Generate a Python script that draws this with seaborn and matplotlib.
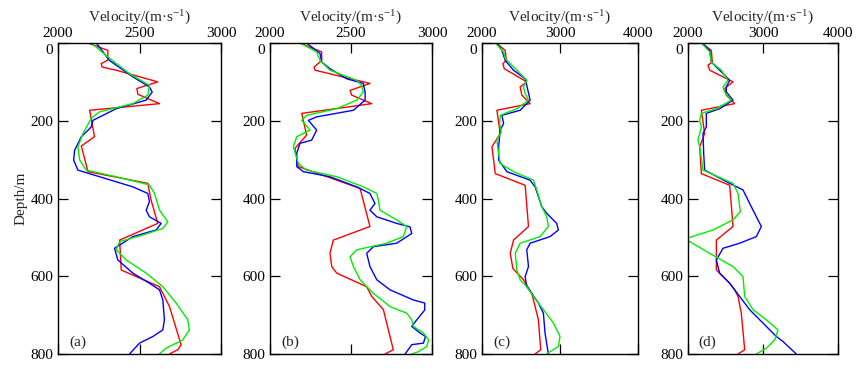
import numpy as np
import pandas as pd
import matplotlib
matplotlib.use("Agg")
import matplotlib.pyplot as plt
import matplotlib.transforms as mtransforms
import seaborn as sns

# ---------------- data (depth in m, velocity in m/s) ----------------
# Panel (a)
a_red_d = [0, 19, 44, 53, 62, 70, 100, 117, 132, 156, 173, 241, 265, 331, 361, 404, 464, 507, 584, 627, 678, 776, 789, 800]
a_red_v = [2184, 2306, 2306, 2265, 2271, 2357, 2612, 2484, 2490, 2623, 2194, 2224, 2143, 2184, 2551, 2571, 2612, 2378, 2388, 2623, 2684, 2755, 2735, 2684]
a_blue_d = [0, 45, 87, 113, 126, 147, 169, 199, 216, 241, 276, 301, 327, 344, 370, 387, 408, 430, 447, 464, 481, 498, 528, 558, 592, 618, 635, 661, 712, 738, 755, 772, 800]
a_blue_v = [2235, 2316, 2459, 2561, 2578, 2541, 2357, 2214, 2204, 2143, 2102, 2096, 2122, 2255, 2459, 2551, 2561, 2541, 2561, 2633, 2602, 2459, 2347, 2367, 2459, 2561, 2623, 2643, 2653, 2643, 2582, 2500, 2439]
a_green_d = [0, 36, 79, 109, 134, 156, 177, 194, 233, 267, 301, 327, 344, 365, 387, 430, 460, 477, 494, 511, 532, 558, 592, 627, 669, 712, 738, 764, 785, 800]
a_green_v = [2204, 2306, 2439, 2561, 2551, 2459, 2255, 2204, 2153, 2122, 2133, 2173, 2357, 2561, 2592, 2623, 2674, 2643, 2520, 2378, 2357, 2418, 2541, 2643, 2725, 2796, 2806, 2765, 2663, 2622]

# Panel (b)
b_red_d = [0, 23, 45, 62, 70, 104, 122, 134, 156, 181, 237, 271, 318, 374, 472, 507, 541, 575, 592, 627, 652, 686, 789, 800]
b_red_v = [2185, 2319, 2319, 2272, 2278, 2617, 2494, 2504, 2628, 2196, 2226, 2154, 2175, 2556, 2617, 2391, 2370, 2381, 2412, 2597, 2628, 2700, 2761, 2710]
b_blue_d = [0, 27, 49, 66, 92, 104, 126, 147, 173, 190, 199, 224, 250, 258, 284, 318, 331, 344, 370, 387, 413, 430, 447, 464, 473, 490, 515, 524, 541, 575, 609, 635, 661, 669, 687, 712, 729, 746, 755, 772, 776, 800]
b_blue_v = [2226, 2309, 2319, 2370, 2473, 2576, 2587, 2587, 2515, 2288, 2237, 2288, 2257, 2185, 2165, 2165, 2206, 2370, 2535, 2617, 2648, 2617, 2659, 2782, 2864, 2875, 2782, 2638, 2597, 2617, 2659, 2741, 2885, 2955, 2955, 2906, 2875, 2926, 2960, 2947, 2875, 2834]
b_green_d = [0, 23, 45, 70, 96, 109, 126, 147, 169, 186, 199, 224, 241, 267, 310, 327, 344, 370, 387, 404, 430, 455, 472, 498, 515, 532, 550, 575, 609, 644, 678, 695, 712, 729, 746, 764, 781, 794, 800]
b_green_v = [2185, 2288, 2309, 2370, 2535, 2566, 2576, 2535, 2412, 2226, 2196, 2247, 2165, 2144, 2175, 2226, 2412, 2576, 2659, 2669, 2679, 2782, 2844, 2823, 2720, 2535, 2494, 2515, 2556, 2638, 2741, 2844, 2875, 2885, 2947, 2980, 2967, 2916, 2875]

# Panel (c)
c_red_d = [0, 19, 45, 53, 66, 100, 113, 134, 156, 173, 233, 267, 336, 366, 472, 507, 541, 580, 609, 644, 678, 712, 789, 800]
c_red_v = [2183, 2298, 2311, 2268, 2285, 2574, 2489, 2511, 2617, 2191, 2234, 2128, 2170, 2553, 2596, 2404, 2362, 2396, 2532, 2638, 2681, 2723, 2753, 2681]
c_blue_d = [0, 19, 45, 70, 92, 109, 147, 173, 186, 207, 224, 267, 301, 331, 353, 370, 421, 438, 464, 481, 498, 515, 532, 575, 601, 627, 644, 669, 695, 746, 800]
c_blue_v = [2191, 2255, 2298, 2404, 2553, 2574, 2617, 2489, 2255, 2277, 2234, 2213, 2213, 2319, 2617, 2681, 2766, 2830, 2957, 2979, 2872, 2617, 2574, 2596, 2553, 2574, 2638, 2723, 2787, 2808, 2851]
c_green_d = [0, 23, 40, 70, 96, 113, 130, 147, 169, 186, 207, 229, 250, 284, 310, 331, 353, 378, 421, 447, 472, 498, 515, 541, 584, 609, 627, 652, 686, 720, 755, 781, 794, 800]
c_green_v = [2170, 2277, 2298, 2447, 2574, 2532, 2553, 2596, 2447, 2234, 2226, 2247, 2191, 2213, 2234, 2404, 2660, 2702, 2766, 2830, 2851, 2745, 2489, 2426, 2447, 2489, 2574, 2660, 2787, 2915, 3000, 2979, 2872, 2830]

# Panel (d)
d_red_d = [0, 19, 49, 57, 70, 100, 117, 134, 156, 173, 233, 267, 336, 366, 472, 507, 584, 618, 635, 652, 695, 789, 800]
d_red_v = [2178, 2311, 2324, 2267, 2289, 2600, 2489, 2511, 2622, 2178, 2222, 2156, 2178, 2556, 2600, 2378, 2378, 2556, 2622, 2667, 2711, 2756, 2667]
d_blue_d = [0, 19, 49, 70, 96, 113, 126, 147, 169, 181, 216, 233, 284, 327, 361, 378, 404, 430, 472, 498, 515, 528, 558, 592, 618, 652, 686, 712, 729, 755, 768, 800]
d_blue_v = [2191, 2289, 2311, 2422, 2556, 2511, 2511, 2600, 2422, 2244, 2244, 2200, 2209, 2222, 2556, 2733, 2800, 2867, 2978, 2911, 2689, 2467, 2378, 2422, 2556, 2689, 2822, 2956, 3044, 3178, 3267, 3444]
d_green_d = [0, 23, 49, 70, 96, 113, 126, 147, 169, 181, 199, 216, 250, 267, 327, 361, 387, 434, 455, 481, 502, 511, 541, 575, 601, 652, 686, 712, 738, 764, 785, 800]
d_green_v = [2178, 2289, 2311, 2444, 2533, 2467, 2489, 2578, 2378, 2178, 2156, 2178, 2133, 2156, 2200, 2600, 2667, 2698, 2600, 2333, 1990, 2022, 2289, 2600, 2733, 2756, 2867, 3044, 3200, 3156, 3044, 2911]

panel_labels = ["(a)", "(b)", "(c)", "(d)"]
xlims = [(2000, 3000), (2000, 3000), (2000, 4000), (2000, 4000)]
xticks = [[2000, 2500, 3000], [2000, 2500, 3000], [2000, 3000, 4000], [2000, 3000, 4000]]
yticks = [0, 200, 400, 600, 800]

panels = [
    (a_red_d, a_red_v, a_blue_d, a_blue_v, a_green_d, a_green_v),
    (b_red_d, b_red_v, b_blue_d, b_blue_v, b_green_d, b_green_v),
    (c_red_d, c_red_v, c_blue_d, c_blue_v, c_green_d, c_green_v),
    (d_red_d, d_red_v, d_blue_d, d_blue_v, d_green_d, d_green_v),
]

# ---------------- style ----------------
sns.set_style("white")
plt.rcParams['font.family'] = ['Liberation Serif', 'DejaVu Serif']
plt.rcParams['mathtext.fontset'] = 'custom'
plt.rcParams['mathtext.rm'] = 'Liberation Serif'
plt.rcParams['mathtext.it'] = 'Liberation Serif:italic'
plt.rcParams['font.size'] = 11

fig = plt.figure(figsize=(8.64, 3.69), dpi=100)
W, H = 864.0, 369.0
lefts = [58, 270, 482, 688]
widths = [163, 162, 156, 150]
top_px, bot_px = 43, 354

palette = {"red": "#ff0000", "blue": "#0000ff", "green": "#00ee00"}
down_shift = mtransforms.ScaledTranslation(0, -4 / 72, fig.dpi_scale_trans)

for i, p in enumerate(panels):
    rd, rv, bd, bv, gd, gv = p
    ax = fig.add_axes([lefts[i] / W, 1 - bot_px / H, widths[i] / W, (bot_px - top_px) / H])
    df = pd.concat([
        pd.DataFrame({"depth": rd, "vel": rv, "curve": "red"}),
        pd.DataFrame({"depth": bd, "vel": bv, "curve": "blue"}),
        pd.DataFrame({"depth": gd, "vel": gv, "curve": "green"}),
    ], ignore_index=True)
    sns.lineplot(data=df, x="vel", y="depth", hue="curve", palette=palette,
                 sort=False, estimator=None, legend=False, lw=1.0, ax=ax)
    ax.set_xlim(*xlims[i])
    ax.set_ylim(800, 0)
    ax.set_xticks(xticks[i])
    ax.set_yticks(yticks)
    ax.xaxis.set_ticks_position('both')
    ax.xaxis.set_label_position('top')
    ax.tick_params(axis='x', which='both', direction='in', length=7, width=0.9,
                   top=True, bottom=True, labeltop=True, labelbottom=False,
                   labelsize=11, pad=2, colors='black')
    ax.tick_params(axis='y', which='both', direction='in', length=7, width=0.9,
                   left=True, right=True, labelleft=True, labelright=False,
                   labelsize=11, pad=3.5, colors='black')
    for s in ax.spines.values():
        s.set_visible(True)
        s.set_color('black')
        s.set_linewidth(1.0)
    ax.set_xlabel("")
    ax.set_ylabel("")
    ax.set_title(r"Velocity/(m·s$^{\mathrm{-1}}$)", fontsize=11, pad=3)
    ax.text(0.07, 0.015, panel_labels[i], transform=ax.transAxes,
            ha='left', va='bottom', fontsize=11)
    if i == 0:
        ax.set_ylabel("Depth/m", fontsize=11, labelpad=2)
    # the "0" depth label sits slightly below the top spine, clear of the velocity labels
    lab0 = ax.yaxis.get_major_ticks()[0].label1
    lab0.set_transform(lab0.get_transform() + down_shift)

fig.savefig("out.png", dpi=100)
